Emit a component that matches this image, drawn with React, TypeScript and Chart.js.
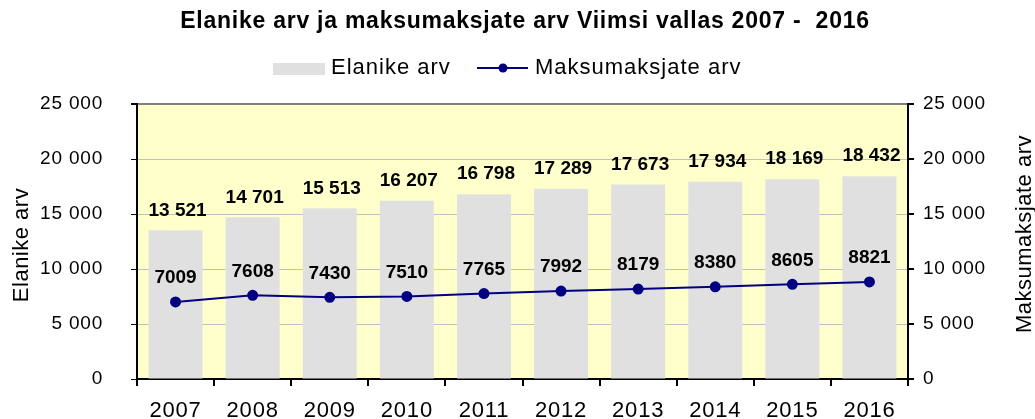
import React, { useEffect, useRef } from "react";
import { Chart, registerables } from "chart.js";

Chart.register(...registerables);

const years = ["2007", "2008", "2009", "2010", "2011", "2012", "2013", "2014", "2015", "2016"];
const residents = [13521, 14701, 15513, 16207, 16798, 17289, 17673, 17934, 18169, 18432];
const taxpayers = [7009, 7608, 7430, 7510, 7765, 7992, 8179, 8380, 8605, 8821];
const axisMin = 0;
const axisMax = 25000;
const axisStep = 5000;
const titleText = "Elanike arv ja maksumaksjate arv Viimsi vallas 2007 -  2016";
const residentsLabel = "Elanike arv";
const taxpayersLabel = "Maksumaksjate arv";
const leftAxisTitle = "Elanike arv";
const rightAxisTitle = "Maksumaksjate arv";

const FONT = "'Liberation Sans', Arial, sans-serif";
const BAR_COLOR = "#E0E0E0";
const LINE_COLOR = "#000080";
const PLOT_BG = "#FFFFCC";

const fmtSpace = (v: number) => String(v).replace(/\B(?=(\d{3})+(?!\d))/g, " ");

const decorPlugin = {
  id: "decor",
  beforeDraw(chart: any) {
    const { ctx, chartArea, width, height } = chart;
    ctx.save();
    ctx.fillStyle = "#ffffff";
    ctx.fillRect(0, 0, width, height);
    ctx.fillStyle = PLOT_BG;
    ctx.fillRect(chartArea.left, chartArea.top, chartArea.right - chartArea.left, chartArea.bottom - chartArea.top);
    ctx.restore();
    (ctx as any).letterSpacing = "0.8px";
  },
  afterDatasetsDraw(chart: any) {
    const { ctx } = chart;
    ctx.save();
    (ctx as any).letterSpacing = "0px";
    ctx.fillStyle = "#000";
    ctx.textAlign = "center";
    ctx.textBaseline = "middle";
    ctx.font = `bold 19px ${FONT}`;
    const barMeta = chart.getDatasetMeta(1);
    barMeta.data.forEach((el: any, i: number) => {
      ctx.fillText(fmtSpace(residents[i]), el.x + 2, el.y - 20);
    });
    const lineMeta = chart.getDatasetMeta(0);
    lineMeta.data.forEach((el: any, i: number) => {
      ctx.fillText(String(taxpayers[i]), el.x, el.y - 24);
    });
    ctx.restore();
  },
  afterDraw(chart: any) {
    const { ctx } = chart;
    ctx.save();
    ctx.fillStyle = "#000";
    // title
    (ctx as any).letterSpacing = "0.75px";
    ctx.font = `bold 23px ${FONT}`;
    ctx.textAlign = "center";
    ctx.textBaseline = "middle";
    ctx.fillText(titleText, 525, 22);
    // legend
    (ctx as any).letterSpacing = "1px";
    ctx.fillStyle = BAR_COLOR;
    ctx.fillRect(273, 63, 52, 12);
    ctx.fillStyle = "#000";
    ctx.font = `22px ${FONT}`;
    ctx.textAlign = "left";
    ctx.fillText(residentsLabel, 331, 68);
    ctx.strokeStyle = LINE_COLOR;
    ctx.lineWidth = 2;
    ctx.beginPath();
    ctx.moveTo(477, 68);
    ctx.lineTo(528, 68);
    ctx.stroke();
    ctx.fillStyle = LINE_COLOR;
    ctx.beginPath();
    ctx.arc(503, 68, 4.5, 0, Math.PI * 2);
    ctx.fill();
    ctx.fillStyle = "#000";
    ctx.fillText(taxpayersLabel, 535, 68);
    // axis titles
    (ctx as any).letterSpacing = "0.5px";
    ctx.textAlign = "center";
    ctx.font = `22px ${FONT}`;
    ctx.translate(22, 245);
    ctx.rotate(-Math.PI / 2);
    ctx.fillText(leftAxisTitle, 0, 0);
    ctx.setTransform(1, 0, 0, 1, 0, 0);
    ctx.translate(1025, 234);
    ctx.rotate(-Math.PI / 2);
    ctx.fillText(rightAxisTitle, 0, 0);
    ctx.restore();
  },
};

export default function App() {
  const ref = useRef<HTMLCanvasElement | null>(null);
  useEffect(() => {
    if (!ref.current) return;
    const chart = new Chart(ref.current, {
      type: "bar",
      data: {
        labels: years,
        datasets: [
          {
            type: "line",
            label: taxpayersLabel,
            data: taxpayers,
            borderColor: LINE_COLOR,
            backgroundColor: LINE_COLOR,
            borderWidth: 2,
            pointRadius: 4.5,
            pointStyle: "circle",
            pointBackgroundColor: LINE_COLOR,
            pointBorderColor: LINE_COLOR,
            tension: 0,
            yAxisID: "y2",
            order: 0,
          } as any,
          {
            type: "bar",
            label: residentsLabel,
            data: residents,
            backgroundColor: BAR_COLOR,
            borderWidth: 0,
            barPercentage: 0.7,
            categoryPercentage: 1,
            yAxisID: "y",
            order: 1,
          },
        ],
      },
      options: {
        responsive: false,
        animation: false,
        layout: { padding: { top: 104, left: 0, right: 0, bottom: 0 } },
        plugins: {
          legend: { display: false },
          title: { display: false },
          tooltip: { enabled: false },
        },
        scales: {
          x: {
            offset: true,
            grid: {
              offset: true,
              drawOnChartArea: false,
              tickLength: 7,
              color: "#000",
              lineWidth: 2,
            },
            border: { color: "#000", width: 2 },
            ticks: {
              color: "#000",
              font: { family: FONT, size: 22 },
              padding: 12,
              maxRotation: 0,
            },
            afterFit: (s: any) => {
              s.height = 40;
            },
          },
          y: {
            position: "left",
            min: axisMin,
            max: axisMax,
            ticks: {
              stepSize: axisStep,
              color: "#000",
              font: { family: FONT, size: 19 },
              padding: 28,
              callback: (v: any) => fmtSpace(Number(v)),
            },
            grid: {
              color: (c: any) =>
                c.tick && c.tick.value === axisMax
                  ? "#808080"
                  : c.tick && c.tick.value === axisMin
                  ? "rgba(0,0,0,0)"
                  : "#C0C0C0",
              lineWidth: (c: any) => (c.tick && c.tick.value === axisMax ? 2 : 1),
              tickColor: "#000",
              tickLength: 6,
            },
            border: { color: "#000", width: 2 },
            afterFit: (s: any) => {
              s.width = 137;
            },
          },
          y2: {
            position: "right",
            min: axisMin,
            max: axisMax,
            ticks: {
              stepSize: axisStep,
              color: "#000",
              font: { family: FONT, size: 19 },
              padding: 9,
              callback: (v: any) => fmtSpace(Number(v)),
            },
            grid: {
              drawOnChartArea: false,
              tickColor: "#000",
              tickLength: 6,
              lineWidth: 2,
            },
            border: { color: "#000", width: 2 },
            afterFit: (s: any) => {
              s.width = 127;
            },
          },
        },
      },
      plugins: [decorPlugin],
    });
    return () => chart.destroy();
  }, []);
  return (
    <div style={{ position: "fixed", left: 0, top: 0, width: 1035, height: 419 }}>
      <canvas ref={ref} width={1035} height={419} />
    </div>
  );
}
